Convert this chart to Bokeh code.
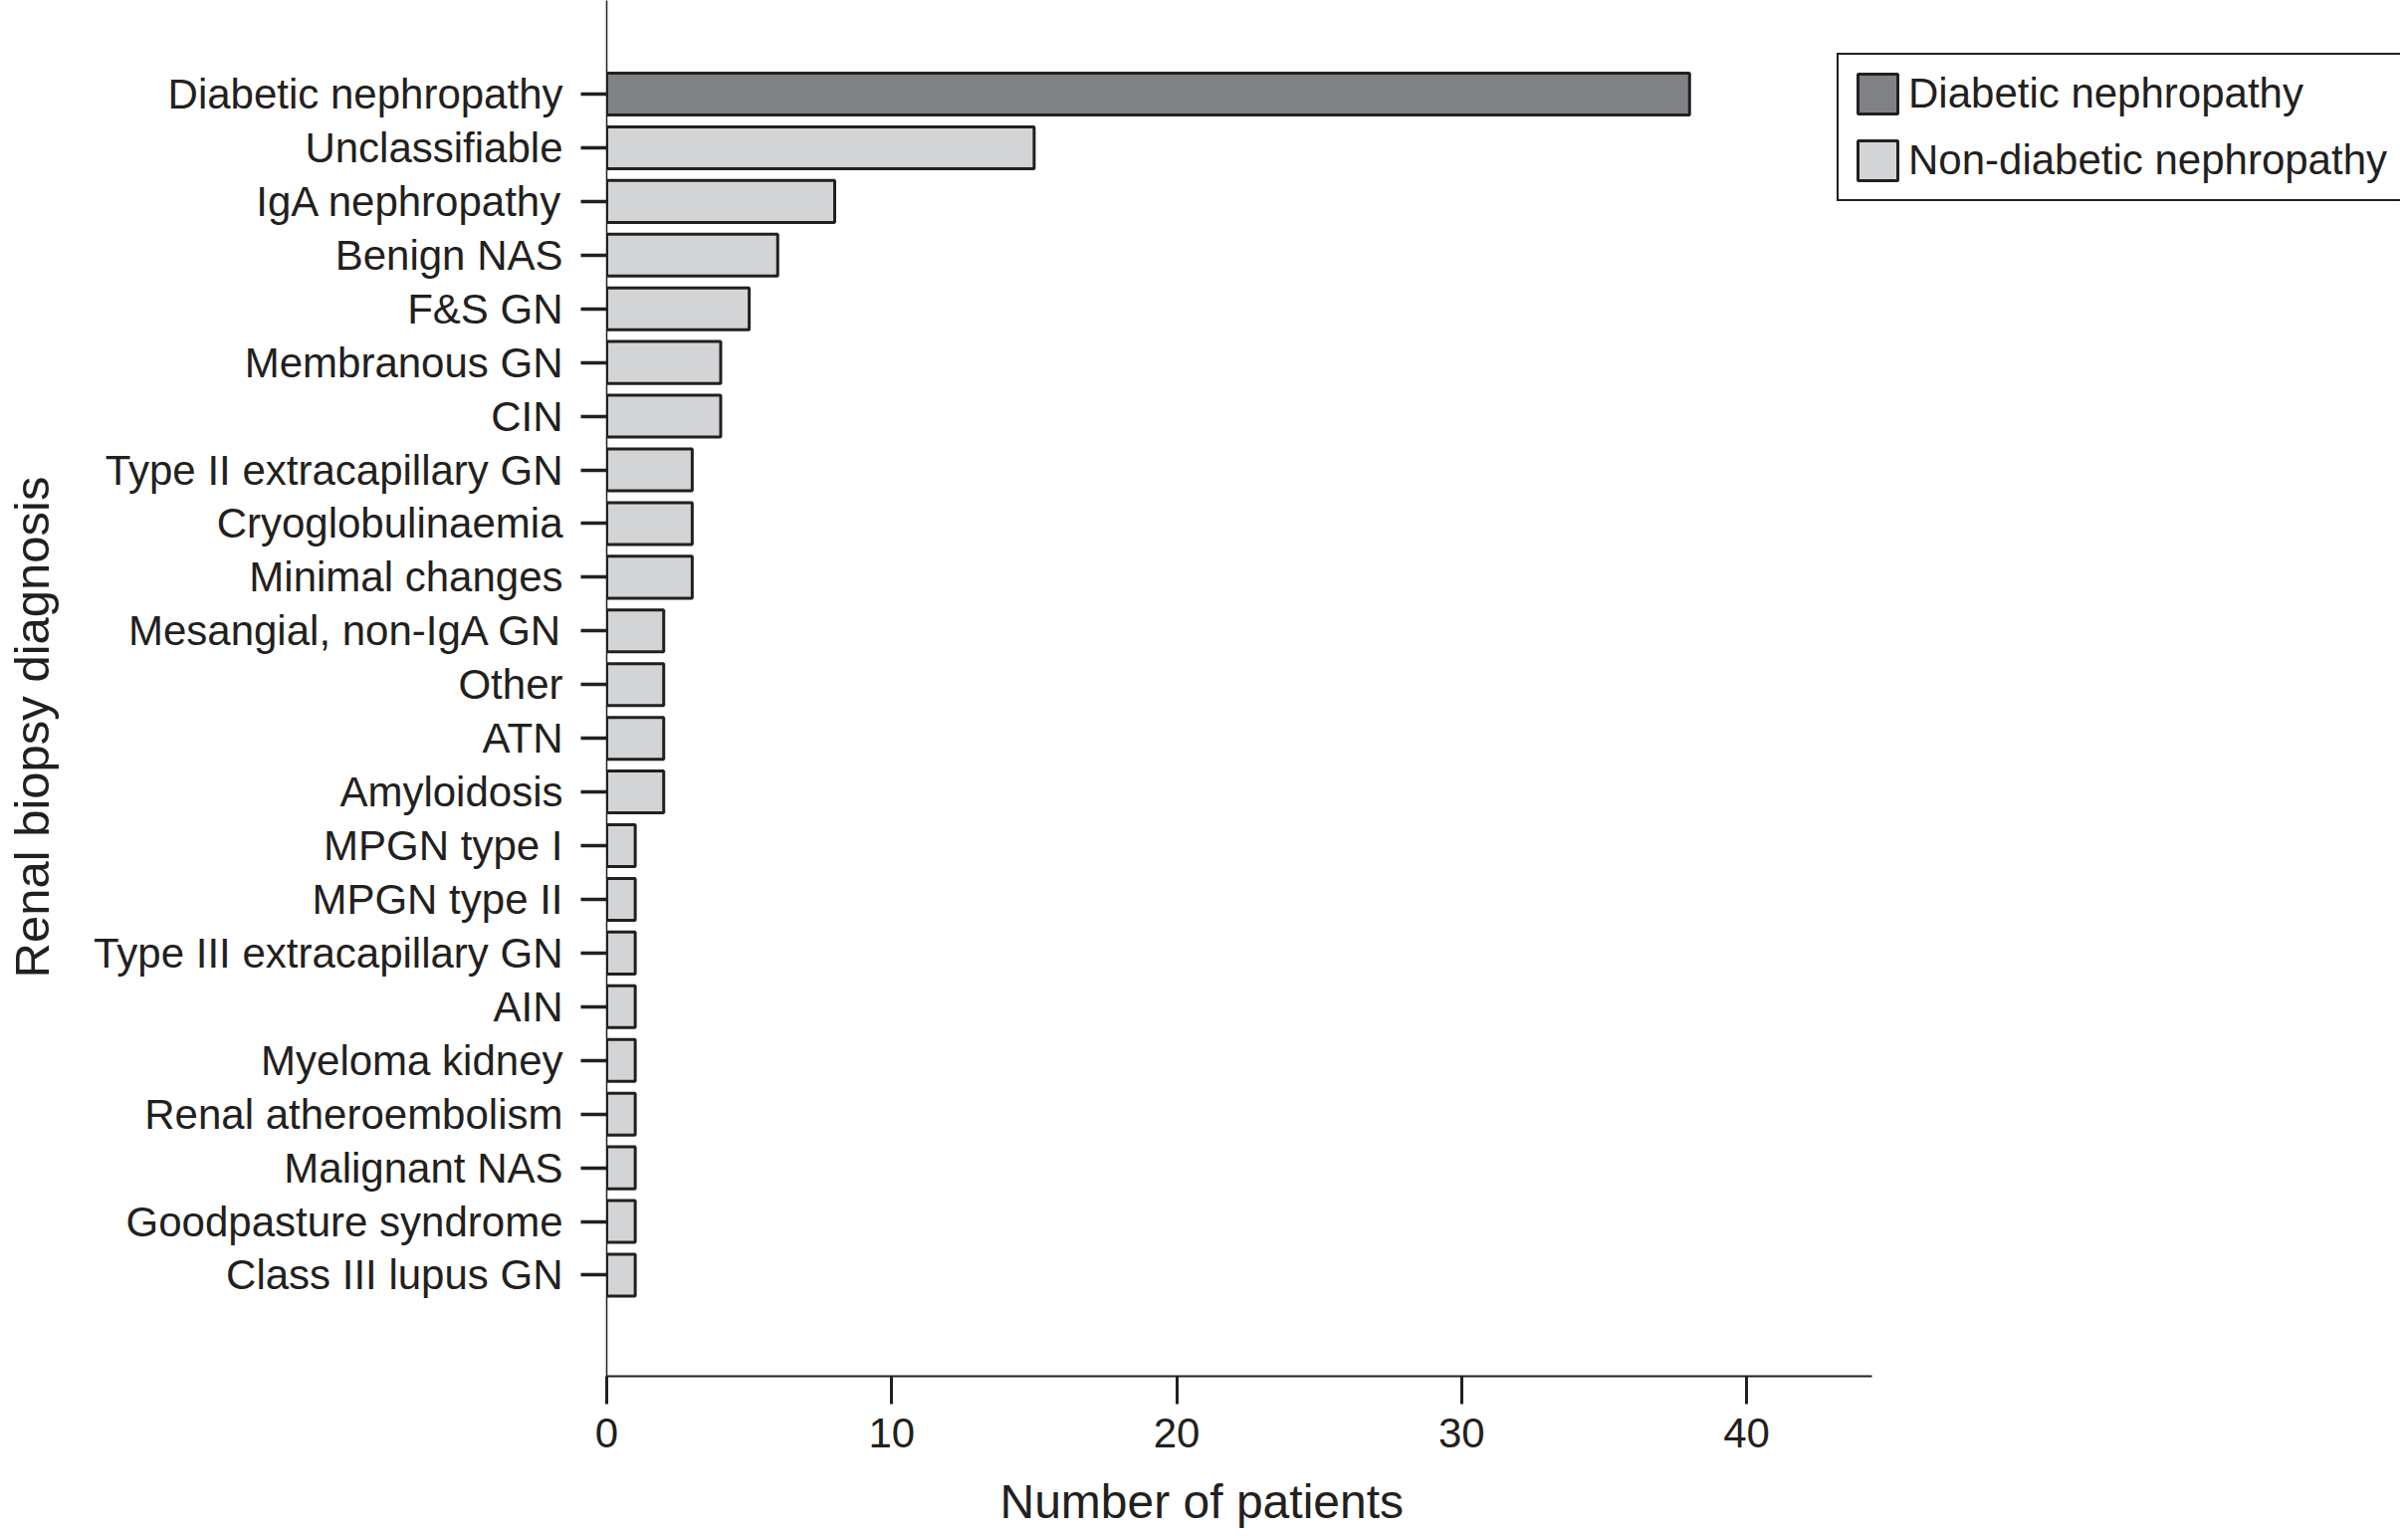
from bokeh.plotting import figure
from bokeh.models import (Range1d, FixedTicker, Legend, LegendItem, ColumnDataSource,
                          Title, LinearAxis)
from bokeh.transform import factor_cmap
from bokeh.embed import file_html
from bokeh.resources import INLINE

categories = [
    "Diabetic nephropathy", "Unclassifiable", "IgA nephropathy", "Benign NAS",
    "F&S GN", "Membranous GN", "CIN", "Type II extracapillary GN",
    "Cryoglobulinaemia", "Minimal changes", "Mesangial, non-IgA GN", "Other",
    "ATN", "Amyloidosis", "MPGN type I", "MPGN type II",
    "Type III extracapillary GN", "AIN", "Myeloma kidney", "Renal atheroembolism",
    "Malignant NAS", "Goodpasture syndrome", "Class III lupus GN",
]
counts = [38, 15, 8, 6, 5, 4, 4, 3, 3, 3, 2, 2, 2, 2, 1, 1, 1, 1, 1, 1, 1, 1, 1]
group_names = ["Diabetic nephropathy", "Non-diabetic nephropathy"]
groups = [group_names[0]] + [group_names[1]] * (len(categories) - 1)
group_colors = ["#808184", "#d3d4d6"]
x_ticks = [0, 10, 20, 30, 40]
x_title = "Number of patients"
y_title = "Renal biopsy diagnosis"

FONT = "'Liberation Sans', Arial, sans-serif"
INK = "#231f20"

# layout (pixels)
W, H = 2411, 1543
FRAME_L, FRAME_B = 609, 1382
PX_PER_UNIT = 28.625
ROW0_Y, ROW_STEP = 94.0, 53.93
X_TITLE_LEFT = 1004      # screen x where x-title text starts
Y_TITLE_BOTTOM = 982     # screen y where rotated y-title text starts
X_GAP, Y_GAP = 25, 31    # empty spacing between tick labels and axis titles

x_end = (W - FRAME_L) / PX_PER_UNIT
y_top = -ROW0_Y / ROW_STEP
y_bot = (FRAME_B - ROW0_Y) / ROW_STEP

pos = list(range(len(categories)))
src = ColumnDataSource(dict(pos=pos, count=counts, group=groups, cat=categories))

p = figure(width=W, height=H,
           x_range=Range1d(0, x_end), y_range=Range1d(y_bot, y_top),
           output_backend="svg", toolbar_location=None,
           min_border_left=FRAME_L, min_border_right=0,
           min_border_top=0, min_border_bottom=H - FRAME_B)
p.outline_line_color = None
p.grid.visible = False
p.background_fill_color = "white"
p.border_fill_color = "white"

r = p.hbar(y="pos", left=0, right="count", height=0.78, source=src,
           fill_color=factor_cmap("group", group_colors, group_names),
           line_color=INK, line_width=3)

# x axis
xa = p.xaxis[0]
xa.ticker = FixedTicker(ticks=x_ticks)
xa.bounds = (0, 44.4)
xa.axis_line_color = INK
xa.axis_line_width = 2
xa.major_tick_out = 28
xa.major_tick_in = 0
xa.major_tick_line_width = 3
xa.major_tick_line_color = INK
xa.minor_tick_line_color = None
xa.major_label_text_font = FONT
xa.major_label_text_font_size = "42px"
xa.major_label_text_color = INK
xa.major_label_standoff = 14

# y axis
ya = p.yaxis[0]
ya.ticker = FixedTicker(ticks=pos)
ya.major_label_overrides = {i: c for i, c in zip(pos, categories)}
ya.axis_line_color = INK
ya.axis_line_width = 1.5
ya.major_tick_out = 26
ya.major_tick_in = 0
ya.major_tick_line_width = 3.5
ya.major_tick_line_color = INK
ya.minor_tick_line_color = None
ya.major_label_text_font = FONT
ya.major_label_text_font_size = "42px"
ya.major_label_text_color = INK
ya.major_label_standoff = 18


def spacer_axis(size):
    # invisible axis used only to reserve space between tick labels and title
    return LinearAxis(ticker=FixedTicker(ticks=[0]), major_label_overrides={0: ""},
                      major_tick_out=size, major_tick_in=0,
                      major_label_standoff=0, major_label_text_font_size="1px",
                      axis_line_color=None, major_tick_line_color=None,
                      minor_tick_line_color=None)


p.add_layout(spacer_axis(X_GAP), "below")
p.add_layout(spacer_axis(Y_GAP), "left")

# axis titles as side titles (offset to match reference placement)
xt = Title(text=x_title, align="left", vertical_align="top",
           offset=X_TITLE_LEFT - FRAME_L, standoff=0,
           text_font=FONT, text_font_size="48px", text_font_style="normal",
           text_color=INK)
p.add_layout(xt, "below")
yt = Title(text=y_title, align="left", vertical_align="top",
           offset=FRAME_B - Y_TITLE_BOTTOM, standoff=0,
           text_font=FONT, text_font_size="49px", text_font_style="normal",
           text_color=INK)
p.add_layout(yt, "left")

legend = Legend(items=[LegendItem(label=group_names[0], renderers=[r], index=0),
                       LegendItem(label=group_names[1], renderers=[r], index=1)],
                location=(1845 - FRAME_L, FRAME_B - 202), margin=0, padding=14, spacing=17,
                glyph_width=50, glyph_height=50, label_height=42,
                label_standoff=6,
                label_text_font=FONT, label_text_font_size="42px",
                label_text_color=INK,
                border_line_color=INK, border_line_width=2, border_line_alpha=1,
                background_fill_color="white", background_fill_alpha=1)
p.add_layout(legend, "center")

open("out.html", "w").write(file_html(p, INLINE))
